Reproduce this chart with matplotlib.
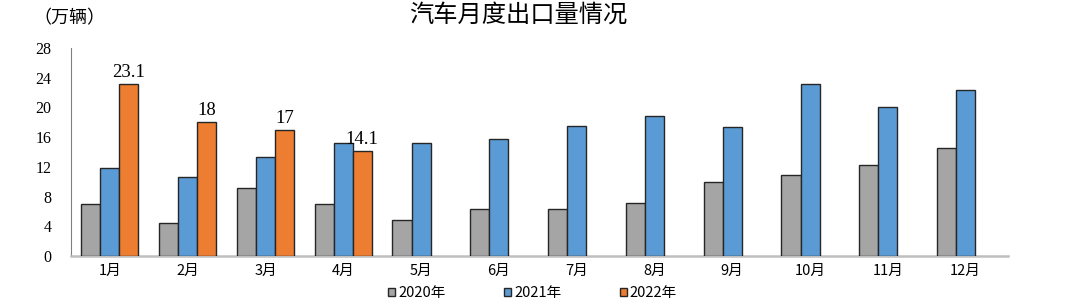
import matplotlib
matplotlib.use("Agg")
import matplotlib.pyplot as plt
import numpy as np

months = ["1月", "2月", "3月", "4月", "5月", "6月", "7月", "8月", "9月", "10月", "11月", "12月"]
series_names = ["2020年", "2021年", "2022年"]
v2020 = [7.0, 4.5, 9.2, 7.0, 4.9, 6.3, 6.3, 7.1, 9.9, 10.9, 12.2, 14.5]
v2021 = [11.9, 10.6, 13.3, 15.2, 15.2, 15.8, 17.5, 18.8, 17.3, 23.1, 20.0, 22.3]
v2022 = [23.1, 18.0, 17.0, 14.1]
labels2022 = ["23.1", "18", "17", "14.1"]
yticks = [0, 4, 8, 12, 16, 20, 24, 28]

colors = ["#A5A5A5", "#5B9BD5", "#ED7D31"]
fam = ["Liberation Serif", "Noto Sans CJK SC", "DejaVu Sans"]
plt.rcParams['font.family'] = fam

fig = plt.figure(figsize=(10.8, 3.07), dpi=100)
ax = fig.add_axes([0.0657, 0.166, 0.8673, 0.678])

x = np.arange(len(months))
w = 0.245
handles = []
for i, (vals, c) in enumerate(zip([v2020, v2021, v2022], colors)):
    xs = x[:len(vals)] + (i - 1) * w
    b = ax.bar(xs, vals, width=w, color=c, edgecolor="#262626", linewidth=1.0,
               label=series_names[i], zorder=3)
    handles.append(b)

for xi, v, t in zip(x[:len(v2022)] + w, v2022, labels2022):
    ax.text(xi, v + 0.4, t, ha="center", va="bottom", fontsize=13.5,
            family=["Liberation Serif", "Noto Sans CJK SC"], zorder=4)

ax.set_xlim(-0.5, 11.54)
ax.set_ylim(0, 28)
ax.set_yticks(yticks)
ax.set_yticklabels([str(t) for t in yticks], fontsize=11.5)
ax.set_xticks(x)
ax.set_xticklabels(months, fontsize=10.5, family=["Noto Sans CJK SC"])
ax.tick_params(axis="both", length=0)
ax.tick_params(axis="y", pad=14)
ax.tick_params(axis="x", pad=6)
for s in ["top", "right"]:
    ax.spines[s].set_visible(False)
ax.spines["left"].set_color("#808080")
ax.spines["left"].set_linewidth(0.8)
ax.spines["bottom"].set_color("#BFBFBF")
ax.spines["bottom"].set_linewidth(1.8)

fig.text(0.48, 0.951, "汽车月度出口量情况", ha="center", va="center", fontsize=17.5,
         weight="medium", family=["Noto Sans CJK SC"])
fig.text(0.031, 0.94, "（万辆）", ha="left", va="center", fontsize=13,
         weight="medium", family=["Noto Sans CJK SC"])

leg = fig.legend(handles=handles, labels=series_names, loc="center", ncol=3,
                 bbox_to_anchor=(0.493, 0.045), frameon=False,
                 handlelength=0.5, handleheight=0.5, handletextpad=0.2,
                 columnspacing=4.0, prop={"family": ["Noto Sans CJK SC"], "size": 10.5})

fig.savefig("out.png", dpi=100)
